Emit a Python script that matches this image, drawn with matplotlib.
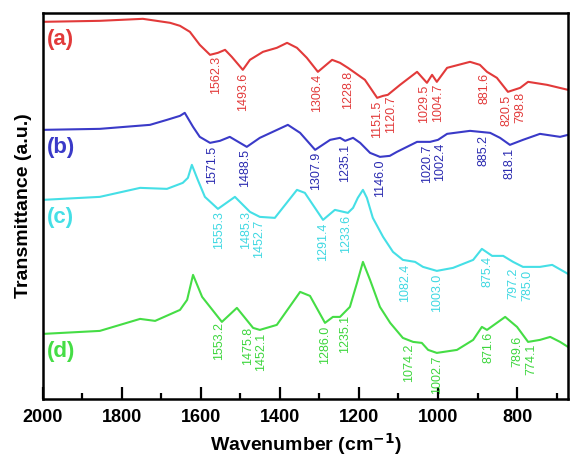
import numpy as np
import matplotlib.pyplot as plt

plt.rcParams['font.family'] = ['Liberation Sans', 'DejaVu Sans']

# spectres (nombre d'onde, hauteur en u.a.)
wn_a = [2000, 1856, 1747, 1678, 1653, 1628, 1603, 1577, 1557, 1539, 1522, 1494, 1476, 1443,
        1408, 1382, 1357, 1332, 1304, 1268, 1248, 1228, 1210, 1185, 1154, 1139, 1127, 1096,
        1053, 1028, 1015, 1003, 977, 919, 894, 876, 851, 823, 792, 772, 724, 671]
t_a = [377, 378, 380, 376, 373, 367, 354, 344, 346, 349, 342, 329, 339, 347,
       351, 356, 351, 341, 327, 339, 336, 331, 326, 319, 301, 303, 304, 314,
       327, 316, 324, 317, 331, 337, 334, 327, 321, 307, 311, 317, 314, 309]

wn_b = [2000, 1856, 1729, 1686, 1653, 1641, 1620, 1603, 1577, 1552, 1527, 1484, 1451, 1380,
        1349, 1311, 1273, 1248, 1235, 1215, 1197, 1172, 1147, 1122, 1104, 1053, 1020, 1000,
        977, 919, 868, 843, 818, 785, 742, 691, 671]
t_b = [269, 270, 274, 279, 283, 286, 272, 262, 256, 258, 262, 252, 261, 274,
       266, 249, 259, 261, 258, 261, 256, 246, 242, 243, 247, 257, 257, 259,
       265, 268, 266, 261, 254, 259, 265, 262, 264]

wn_c = [2000, 1856, 1754, 1686, 1646, 1633, 1623, 1608, 1590, 1557, 1514, 1476, 1451, 1413,
        1387, 1357, 1337, 1291, 1261, 1228, 1215, 1203, 1190, 1180, 1165, 1139, 1114, 1089,
        1058, 1038, 1003, 962, 911, 889, 863, 835, 810, 785, 742, 711, 671]
t_c = [199, 202, 211, 210, 216, 221, 234, 219, 202, 190, 202, 187, 182, 181,
       194, 209, 206, 179, 189, 186, 191, 201, 209, 201, 181, 162, 147, 139,
       137, 132, 128, 131, 139, 150, 143, 143, 137, 132, 132, 134, 125]

wn_d = [2000, 1856, 1754, 1716, 1653, 1635, 1620, 1597, 1547, 1509, 1468, 1451, 1408, 1349,
        1324, 1286, 1266, 1248, 1223, 1205, 1190, 1172, 1147, 1121, 1089, 1063, 1041, 1025,
        1003, 952, 911, 889, 876, 830, 800, 772, 742, 716, 691, 671]
t_d = [65, 68, 80, 78, 89, 99, 124, 102, 77, 91, 71, 69, 74, 107,
       103, 76, 82, 82, 92, 116, 137, 119, 92, 76, 61, 57, 56, 49,
       46, 49, 59, 72, 69, 82, 72, 57, 59, 62, 57, 52]

# valeurs des pics
pics_a = [1562.3, 1493.6, 1306.4, 1228.8, 1151.5, 1120.7, 1029.5, 1004.7, 881.6, 820.5, 798.8]
pics_b = [1571.5, 1488.5, 1307.9, 1235.1, 1146.0, 1020.7, 1002.4, 885.2, 818.1]
pics_c = [1555.3, 1485.3, 1452.7, 1291.4, 1233.6, 1082.4, 1003.0, 875.4, 797.2, 785.0]
pics_d = [1553.2, 1475.8, 1452.1, 1286.0, 1235.1, 1074.2, 1002.7, 871.6, 789.6, 774.1]

noms = ["(a)", "(b)", "(c)", "(d)"]

series = [
    (wn_a, t_a, pics_a, '#e23a3a', '#e23a3a'),
    (wn_b, t_b, pics_b, '#3a3ac8', '#2a2ab0'),
    (wn_c, t_c, pics_c, '#45dfe6', '#3fd8e2'),
    (wn_d, t_d, pics_d, '#45dd45', '#3dd63d'),
]


def ecarter(pics, ecart=34):
    # écarte les étiquettes trop proches pour qu'elles ne se chevauchent pas
    pos = list(pics)
    for k in range(1, len(pos)):
        d = pos[k - 1] - pos[k]
        if d < ecart:
            m = (pos[k - 1] + pos[k]) / 2
            pos[k - 1] = m + ecart / 2
            pos[k] = m - ecart / 2
    return pos


fig = plt.figure(figsize=(5.72, 4.58), dpi=100)
ax = fig.add_axes([0.075, 0.129, 0.918, 0.843])

for i, (wn, t, pics, col, col_txt) in enumerate(series):
    ax.plot(wn, t, color=col, lw=1.5)
    ax.text(1990, t[0] - 18, noms[i], color=col, fontsize=16, fontweight='bold',
            ha='left', va='center')
    wn_r = np.array(wn[::-1])
    t_r = np.array(t[::-1])
    for p, xp in zip(pics, ecarter(pics)):
        y = np.interp(p, wn_r, t_r)
        ax.text(xp, y - 3, f"{p:.1f}", rotation=90, color=col_txt, fontsize=9,
                ha='center', va='top')

ax.set_xlim(2000, 671)
ax.set_ylim(0, 386)
ax.set_xticks([2000, 1800, 1600, 1400, 1200, 1000, 800])
ax.set_xticks([1900, 1700, 1500, 1300, 1100, 900, 700], minor=True)
ax.set_yticks([])
ax.tick_params(axis='x', which='major', direction='in', length=8.5, width=1.6,
               labelsize=13, pad=7)
ax.tick_params(axis='x', which='minor', direction='in', length=4.5, width=1.6)
for lab in ax.get_xticklabels():
    lab.set_fontweight('bold')
for s in ax.spines.values():
    s.set_linewidth(1.8)

ax.set_xlabel("Wavenumber (cm$^{\\mathbf{-1}}$)", fontsize=14, fontweight='bold', labelpad=4)
ax.set_ylabel("Transmittance (a.u.)", fontsize=14, fontweight='bold', labelpad=8)

plt.savefig("out.png", dpi=100)
plt.close()
